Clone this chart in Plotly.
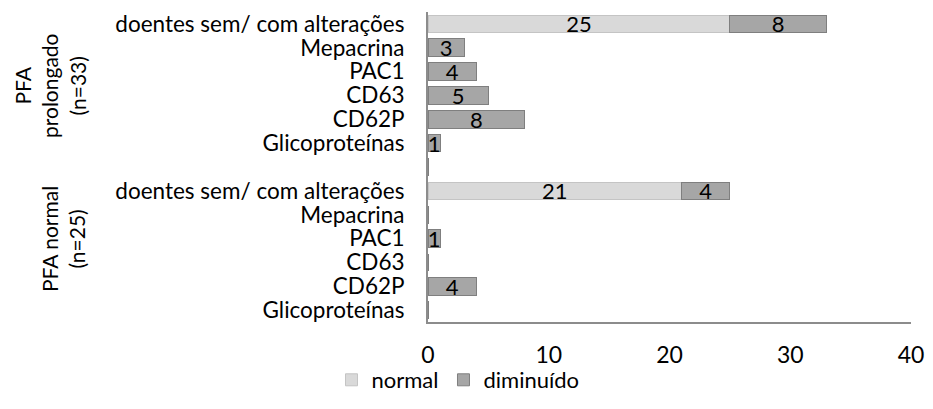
import plotly.graph_objects as go

groups = ["PFA<br>prolongado<br>(n=33)", "PFA normal<br>(n=25)"]
items = ["doentes sem/ com alterações", "Mepacrina", "PAC1", "CD63", "CD62P", "Glicoproteínas"]

# values per group (same order as items)
normal_prolongado = [25, 0, 0, 0, 0, 0]
diminuido_prolongado = [8, 3, 4, 5, 8, 1]
normal_normal = [21, 0, 0, 0, 0, 0]
diminuido_normal = [4, 0, 1, 0, 4, 0]

x_ticks = [0, 10, 20, 30, 40]

# build slot positions: group 1, blank slot, group 2
labels = items + [""] + items
normal_vals = normal_prolongado + [0] + normal_normal
dim_vals = diminuido_prolongado + [0] + diminuido_normal
pos = list(range(len(labels)))

FONT = "Lato"
FS = 22
OFF = 8  # page body margin
W, H = 933 - OFF, 409 - 2 * OFF
L, R, T = 428 - OFF, 22, 12 - OFF
B = H - (322 - OFF)
fig = go.Figure()
fig.add_trace(go.Bar(
    y=pos, x=normal_vals, orientation="h", name="normal",
    marker=dict(color="#d9d9d9", line=dict(color="#c4c4c4", width=1)),
    text=[str(v) if v else "" for v in normal_vals], textposition="inside",
    insidetextanchor="middle", textangle=0,
    textfont=dict(color="black", size=FS, family=FONT),
    width=0.74, constraintext="none",
))
fig.add_trace(go.Bar(
    y=pos, x=dim_vals, orientation="h", name="diminuído",
    marker=dict(color="#a6a6a6", line=dict(color="#7f7f7f", width=1)),
    text=[str(v) if v else "" for v in dim_vals], textposition="inside",
    insidetextanchor="middle", textangle=0,
    textfont=dict(color="black", size=FS, family=FONT),
    width=0.74, constraintext="none",
))

fig.update_layout(
    barmode="stack",
    width=W, height=H,
    margin=dict(l=L, r=R, t=T, b=B, autoexpand=False),
    paper_bgcolor="white", plot_bgcolor="white",
    font=dict(family=FONT, size=FS, color="black"),
    uniformtext=dict(minsize=FS, mode="show"),
    showlegend=True,
    xaxis=dict(range=[0, 40], tickvals=x_ticks, showgrid=False, zeroline=False,
               showline=True, linecolor="#8c8c8c", linewidth=2, ticks="",
               tickfont=dict(size=FS + 1), ticklabelstandoff=11,
               automargin=False, ticklabeloverflow="allow"),
    yaxis=dict(range=[len(labels) - 0.5, -0.5], tickvals=pos, ticktext=labels,
               showgrid=False, zeroline=False, showline=True, linecolor="#8c8c8c",
               linewidth=2, ticks="", ticklabelstandoff=17, automargin=False,
               tickfont=dict(size=FS + 0.5)),
    legend=dict(orientation="h", x=(458 - OFF) / W, xanchor="center", xref="container",
                y=-0.03, yref="container", yanchor="bottom", bgcolor="rgba(0,0,0,0)",
                font=dict(size=FS), traceorder="normal", itemwidth=30),
)

pw = W - L - R
ph = H - T - B
def px_to_paper(px, py):
    # reference pixel coordinates -> paper coordinates
    return (px - OFF - L) / pw, (H - B - (py - OFF)) / ph

for txt, (px, py) in zip(groups, [(50, 86), (63, 239)]):
    gx, gy = px_to_paper(px, py)
    fig.add_annotation(x=gx, y=gy, xref="paper", yref="paper", text=txt, showarrow=False,
                       textangle=-90, font=dict(size=FS - 1, family=FONT),
                       xanchor="center", yanchor="middle")

fig.write_html("out.html")
